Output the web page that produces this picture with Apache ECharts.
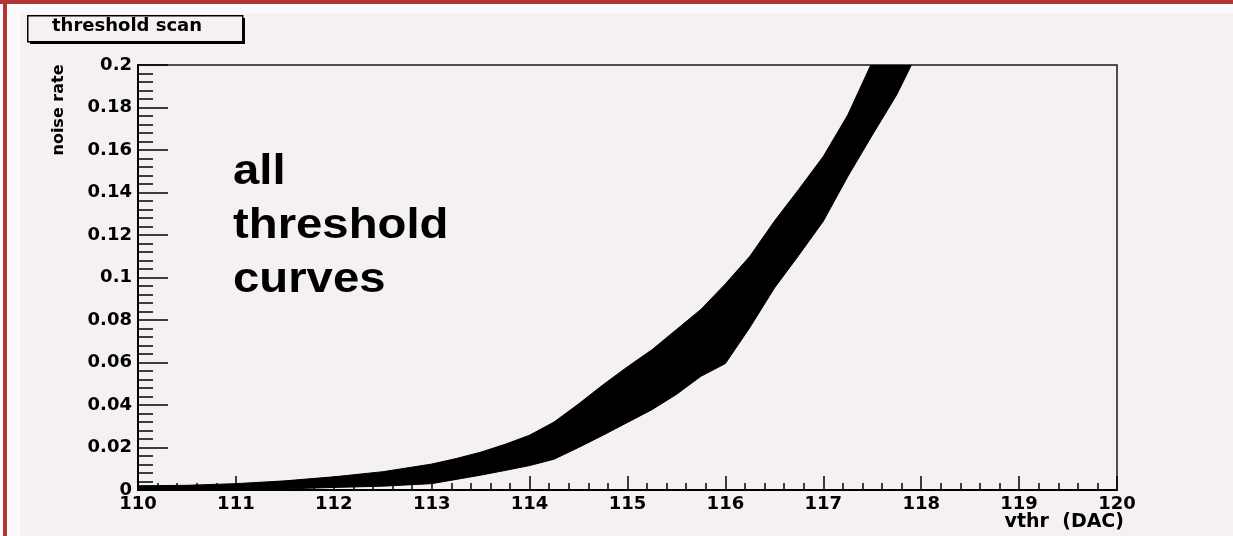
<!DOCTYPE html>
<html>
<head>
<meta charset="utf-8">
<title>threshold scan</title>
<script src="https://cdn.jsdelivr.net/npm/echarts@6/dist/echarts.min.js"></script>
<style>
  html, body { margin: 0; padding: 0; background: #ffffff; }
  #chart { width: 1233px; height: 536px; }
</style>
</head>
<body>
<div id="chart"></div>
<script>
// Threshold DAC settings and the envelope of all per-pixel noise-rate curves
const vthr = [110, 110.5, 111, 111.5, 112, 112.5, 113, 113.25, 113.5, 113.75, 114, 114.25, 114.5, 114.75, 115, 115.25, 115.5, 115.75, 116, 116.25, 116.5, 116.75, 117, 117.25, 117.5, 117.75, 117.9];
const rateHigh = [0.0020, 0.0022, 0.0030, 0.0043, 0.0062, 0.0086, 0.0122, 0.0148, 0.0178, 0.0215, 0.0258, 0.0320, 0.0405, 0.0495, 0.0580, 0.0660, 0.0755, 0.0850, 0.0970, 0.1100, 0.1265, 0.1415, 0.1570, 0.1765, 0.2015, 0.2220, 0.2340];
const rateLow = [0, 0, 0, 0.0005, 0.0012, 0.0018, 0.0030, 0.0050, 0.0070, 0.0092, 0.0115, 0.0145, 0.0200, 0.0258, 0.0318, 0.0378, 0.0450, 0.0535, 0.0595, 0.0765, 0.0950, 0.1105, 0.1265, 0.1475, 0.1670, 0.1860, 0.2000];

// Axis ranges
const xRange = [110, 120];
const yRange = [0, 0.2];
const yStep = 0.02;

const titleText = 'threshold scan';
const xTitle = 'vthr  (DAC)';
const yTitle = 'noise rate';
const noteText = 'all\nthreshold\ncurves';

// one record per sample: [vthr, high, low]
const bandData = vthr.map((x, i) => [x, rateHigh[i], rateLow[i]]);

const PAD = '#f4f0f4';
const RED = '#b03434';
const axisFont = { color: '#000', fontFamily: 'DejaVu Sans', fontWeight: 'bold' };

const chart = echarts.init(document.getElementById('chart'), null, { renderer: 'canvas' });

// the whole band of curves is filled as one polygon: upper edge forward, lower edge back
function renderBand(params, api) {
  if (params.dataIndex !== 0) return null;
  const pts = [];
  for (let i = 0; i < bandData.length; i++) {
    pts.push(api.coord([bandData[i][0], bandData[i][1]]));
  }
  for (let i = bandData.length - 1; i >= 0; i--) {
    pts.push(api.coord([bandData[i][0], bandData[i][2]]));
  }
  const cs = params.coordSys;
  return {
    type: 'polygon',
    shape: { points: pts },
    style: { fill: '#000', stroke: '#000', lineWidth: 1 },
    clipPath: { type: 'rect', shape: { x: cs.x, y: cs.y, width: cs.width, height: cs.height } }
  };
}

chart.setOption({
  backgroundColor: PAD,
  animation: false,
  grid: {
    left: 138, top: 65, right: 116, bottom: 46,
    show: true, borderColor: '#1a1a1a', borderWidth: 1.5, backgroundColor: 'transparent'
  },
  xAxis: {
    type: 'value', min: xRange[0], max: xRange[1], interval: 1,
    axisLine: { show: true, onZero: false, lineStyle: { color: '#000', width: 2 } },
    axisTick: { show: true, inside: true, length: 14, lineStyle: { color: '#000', width: 1.5 } },
    minorTick: { show: true, splitNumber: 5, length: 7, lineStyle: { color: '#000', width: 1.5 } },
    splitLine: { show: false },
    axisLabel: Object.assign({ margin: 5, fontSize: 18 }, axisFont)
  },
  yAxis: {
    type: 'value', min: yRange[0], max: yRange[1], interval: yStep,
    axisLine: { show: true, onZero: false, lineStyle: { color: '#000', width: 2 } },
    axisTick: { show: true, inside: true, length: 30, lineStyle: { color: '#000', width: 1.5 } },
    minorTick: { show: true, splitNumber: 5, length: 15, lineStyle: { color: '#000', width: 1.5 } },
    splitLine: { show: false },
    axisLabel: Object.assign({ margin: 6, fontSize: 18 }, axisFont)
  },
  series: [
    {
      name: 'threshold curves', type: 'custom', data: bandData,
      encode: { x: 0, y: [1, 2] }, clip: true, z: 3,
      renderItem: renderBand
    }
  ],
  graphic: [
    // page frame: white margin with red rules
    { type: 'rect', left: 0, top: 0, shape: { width: 20, height: 536 }, style: { fill: '#fcf9fb' }, silent: true },
    { type: 'rect', left: 0, top: 0, shape: { width: 1233, height: 14 }, style: { fill: '#fcf9fb' }, silent: true },
    { type: 'rect', left: 3, top: 0, shape: { width: 4, height: 536 }, style: { fill: RED }, silent: true },
    { type: 'rect', left: 0, top: 0, shape: { width: 1233, height: 4 }, style: { fill: RED }, silent: true },
    // title box with drop shadow
    { type: 'rect', left: 30, top: 18, shape: { width: 215, height: 26 }, style: { fill: '#000' }, silent: true },
    { type: 'rect', left: 27, top: 15, shape: { width: 215, height: 26 }, style: { fill: PAD, stroke: '#000', lineWidth: 1.5 }, silent: true },
    {
      type: 'text', left: 52, top: 17,
      style: { text: titleText, fill: '#000', font: 'bold 18px "DejaVu Sans"' }, silent: true
    },
    // axis titles
    {
      type: 'text', x: 51, y: 110, rotation: Math.PI / 2,
      style: { text: yTitle, fill: '#000', font: 'bold 16px "DejaVu Sans"', align: 'center', verticalAlign: 'top' },
      silent: true
    },
    {
      type: 'text', x: 1124, y: 522,
      style: { text: xTitle, fill: '#000', font: 'bold 19px "DejaVu Sans"', align: 'right', verticalAlign: 'middle' },
      silent: true
    },
    // annotation inside the plot
    {
      type: 'text', x: 233, y: 145, scaleX: 1.1,
      style: { text: noteText, fill: '#000', font: 'bold 43px "Liberation Sans", Arial, sans-serif', lineHeight: 54, verticalAlign: 'top' },
      silent: true
    }
  ]
});
</script>
</body>
</html>
